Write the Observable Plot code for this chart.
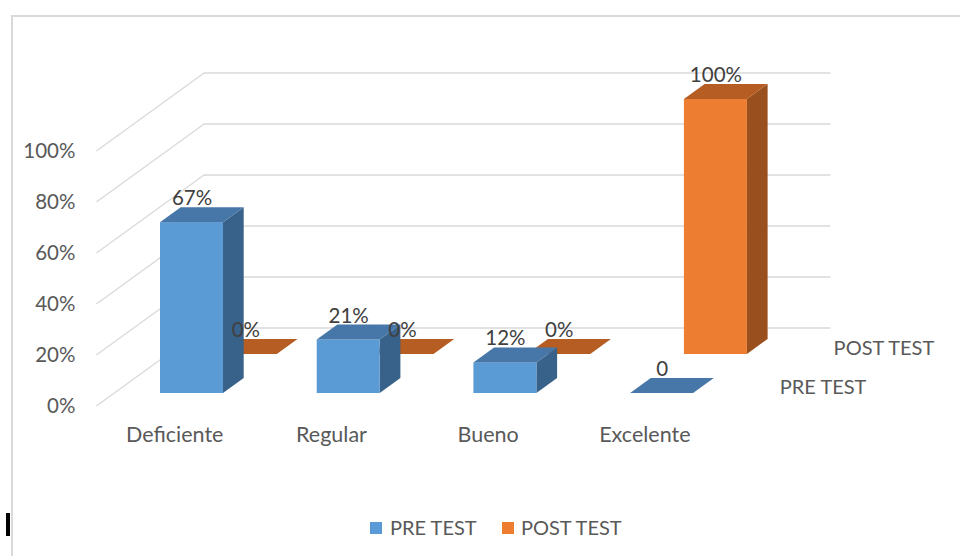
<!DOCTYPE html>
<html>
<head>
<meta charset="utf-8">
<script src="https://cdn.jsdelivr.net/npm/d3@7"></script>
<script src="https://cdn.jsdelivr.net/npm/@observablehq/plot@0.6"></script>
<style>
  html, body { margin: 0; padding: 0; background: #fff; }
  #wrap { position: relative; width: 960px; height: 556px; overflow: hidden; font-family: Lato, "Liberation Sans", sans-serif; color: #595959; }
  #frame { position: absolute; left: 11px; top: 15px; width: 980px; height: 600px; border-left: 2px solid #d9d9d9; border-top: 2px solid #d9d9d9; box-sizing: border-box; }
  #cursor { position: absolute; left: 6px; top: 513px; width: 3.5px; height: 23px; background: #000; }
  #chart { position: absolute; left: 0; top: 0; }
  #legend { position: absolute; left: 0; top: 512px; width: 960px; height: 30px; font-size: 20px; }
  .sw { position: absolute; width: 12px; height: 12px; top: 10px; }
  .lt { position: absolute; top: 2px; line-height: 26px; white-space: nowrap; }
</style>
</head>
<body>
<div id="wrap">
  <div id="frame"></div>
  <div id="cursor"></div>
  <div id="chart"></div>
  <div id="legend"></div>
</div>
<script>
// ---- data ----
const categories = ["Deficiente", "Regular", "Bueno", "Excelente"];
const preTest = [67, 21, 12, 0];
const postTest = [0, 0, 0, 100];
const preLabels = ["67%", "21%", "12%", "0"];
const postLabels = ["0%", "0%", "0%", "100%"];
const yTicks = [0, 20, 40, 60, 80, 100];
const yTickLabels = ["0%", "20%", "40%", "60%", "80%", "100%"];
const seriesNames = ["PRE TEST", "POST TEST"];
const seriesColors = ["#5B9BD5", "#ED7D31"];

// ---- 3D projection helpers (depth measured in screen-px units) ----
const PX_PER_CAT = 156.7;      // x scale: px per category
const PX_PER_PCT = 2.55;       // y scale: px per percent
const SLANT = 1.38;            // horizontal shift per px of depth
const KX = SLANT / PX_PER_CAT; // x units per depth px
const KY = 1 / PX_PER_PCT;     // y units per depth px
const HW = 31.5 / PX_PER_CAT;  // bar half width (x units)
const BAR_DEPTH = 15;
const DEPTH_FRONT = -12.5, DEPTH_BACK = 65.5;
const series = [
  {name: seriesNames[0], values: preTest, labels: preLabels, d0: 0,
   front: "#5B9BD5", top: "#4677A8", side: "#386289"},
  {name: seriesNames[1], values: postTest, labels: postLabels, d0: 39,
   front: "#ED7D31", top: "#B55D22", side: "#9A501E"}
];
const px = (x, d) => x + d * KX;
const py = (v, d) => v + d * KY;

const marks = [];

// back wall gridlines and side-wall diagonals
marks.push(Plot.ruleY(yTicks, {
  y: t => py(t, DEPTH_BACK), x1: px(-0.5, DEPTH_BACK), x2: px(3.5, DEPTH_BACK),
  stroke: "#d9d9d9", strokeWidth: 1.3
}));
marks.push(Plot.link(yTicks, {
  x1: px(-0.5, DEPTH_FRONT), y1: t => py(t, DEPTH_FRONT),
  x2: px(-0.5, DEPTH_BACK), y2: t => py(t, DEPTH_BACK),
  stroke: "#d9d9d9", strokeWidth: 1.3
}));

// bars, back row first
for (const s of [...series].reverse()) {
  const d0 = s.d0, d1 = s.d0 + BAR_DEPTH;
  const rows = categories.map((c, i) => ({c, i, v: s.values[i], label: s.labels[i]}));
  const solid = rows.filter(r => r.v > 0);
  // top faces (two points each: left edge, right edge)
  const topPts = rows.flatMap(r => [
    {c: r.c, x2: px(r.i - HW, d0), y2: py(r.v, d0), x1: px(r.i - HW, d1), y1: py(r.v, d1)},
    {c: r.c, x2: px(r.i + HW, d0), y2: py(r.v, d0), x1: px(r.i + HW, d1), y1: py(r.v, d1)}
  ]);
  // side faces
  const sidePts = solid.flatMap(r => [
    {c: r.c, x2: px(r.i + HW, d0), y2: py(r.v, d0), x1: px(r.i + HW, d0), y1: py(0, d0)},
    {c: r.c, x2: px(r.i + HW, d1), y2: py(r.v, d1), x1: px(r.i + HW, d1), y1: py(0, d1)}
  ]);
  marks.push(Plot.area(sidePts, {x1: "x1", y1: "y1", x2: "x2", y2: "y2", z: "c", fill: s.side, curve: "linear"}));
  marks.push(Plot.rect(solid, {
    x1: r => px(r.i - HW, d0), x2: r => px(r.i + HW, d0),
    y1: r => py(0, d0), y2: r => py(r.v, d0), fill: s.front
  }));
  marks.push(Plot.area(topPts, {x1: "x1", y1: "y1", x2: "x2", y2: "y2", z: "c", fill: s.top, curve: "linear"}));
}

// value labels
for (const s of series) {
  const d0 = s.d0;
  const rows = categories.map((c, i) => ({i, v: s.values[i], label: s.labels[i]}));
  marks.push(Plot.text(rows, {
    x: r => px(r.i, d0), y: r => py(r.v, d0), text: "label",
    dy: -24, fill: "#404040", fontSize: 20.5
  }));
}

// y tick labels on the front wall
marks.push(Plot.text(yTicks, {
  x: px(-0.5, DEPTH_FRONT), y: t => py(t, DEPTH_FRONT),
  text: (t, k) => yTickLabels[k], textAnchor: "end", dx: -21, fill: "#595959", fontSize: 20.5
}));
// category labels
marks.push(Plot.text(categories, {
  x: (c, i) => px(i, DEPTH_FRONT), y: py(0, DEPTH_FRONT),
  text: c => c, dy: 29, fill: "#595959", fontSize: 21.5
}));
// series (depth) labels
marks.push(Plot.text(series, {
  x: s => px(3.5, s.d0 + BAR_DEPTH / 2), y: s => py(0, s.d0 + BAR_DEPTH / 2),
  text: "name", textAnchor: "start", dx: 29, dy: 1.5, fill: "#595959", fontSize: 20
}));

const chart = Plot.plot({
  width: 960,
  height: 500,
  margin: 0,
  x: {type: "linear", domain: [0, 3], range: [191.5, 191.5 + 3 * PX_PER_CAT], axis: null},
  y: {type: "linear", domain: [0, 100], range: [393, 393 - 100 * PX_PER_PCT], axis: null},
  style: {fontFamily: "Lato, 'Liberation Sans', sans-serif", fontSize: "20px", color: "#595959", background: "transparent", overflow: "visible"},
  marks
});
document.getElementById("chart").appendChild(chart);

// legend
const legend = document.getElementById("legend");
const legendPos = [[370, 390], [502, 521]];
seriesNames.forEach((n, k) => {
  const sw = document.createElement("div");
  sw.className = "sw"; sw.style.left = legendPos[k][0] + "px"; sw.style.background = seriesColors[k];
  const t = document.createElement("div");
  t.className = "lt"; t.style.left = legendPos[k][1] + "px"; t.textContent = n;
  legend.appendChild(sw); legend.appendChild(t);
});
</script>
</body>
</html>
